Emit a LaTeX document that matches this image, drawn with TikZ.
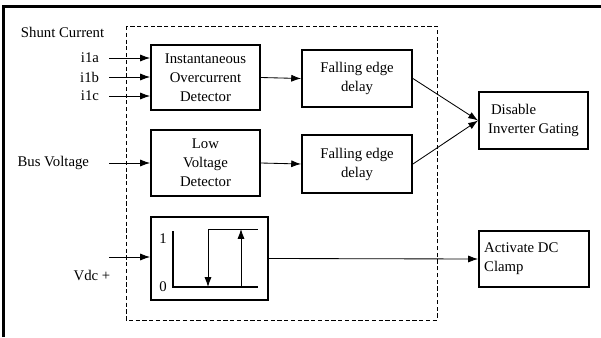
\documentclass[tikz,border=0pt]{standalone}
\usepackage{fontspec}
\setmainfont{Liberation Serif}
\usetikzlibrary{arrows.meta}

\tikzset{
  block/.style={draw, line width=1.3pt, align=center, inner sep=2pt},
  arr/.style={-{Latex[length=7pt,width=5pt]}, line width=0.6pt},
}

\begin{document}
\begin{tikzpicture}[x=0.025cm, y=-0.025cm, font=\fontsize{10.5}{13.5}\selectfont]
  \useasboundingbox (0,0) rectangle (601,337);

  % frame (cut off on the right and at the bottom)
  \draw [line width=1.8pt] (3.5,337) -- (3.5,6.5) -- (601,6.5);
  % protection area
  \draw [dash pattern=on 3pt off 1.8pt, line width=0.7pt] (126,26) rectangle (437,320);

  \node [anchor=west] (shunt) at (16,32) {Shunt Current};

  \node (ioc) at (205.5,77.5) [block, minimum width=2.725cm, minimum height=1.625cm] {Instantaneous\\Overcurrent\\Detector};
  \node (fed1) at (357,78.5) [block, minimum width=2.75cm, minimum height=1.425cm] {Falling edge\\delay};
  \node (lvd) at (205.5,163) [block, minimum width=2.725cm, minimum height=1.65cm] {Low\\Voltage\\Detector};
  \node (fed2) at (357,164) [block, minimum width=2.75cm, minimum height=1.45cm] {Falling edge\\delay};
  \node (hyst) at (209.5,258.5) [block, minimum width=2.925cm, minimum height=2.075cm] {};
  \node (dis) at (533.5,120.5) [block, align=left, minimum width=2.725cm, minimum height=1.425cm] {\hspace*{2pt}Disable\\Inverter Gating};
  \node (clamp) at (534,259) [block, align=left, minimum width=2.75cm, minimum height=1.4cm] {Activate DC\hspace*{18pt}\\Clamp};

  \coordinate (ina) at (109,58);
  \coordinate (inb) at (109,77);
  \coordinate (inc) at (109,96);
  \coordinate (inbus) at (109,163);
  \coordinate (invdc) at (109,257);

  \node [anchor=east] (i1a) at (104,58) {i1a};
  \node [anchor=east] (i1b) at (104,77) {i1b};
  \node [anchor=east] (i1c) at (104,96) {i1c};
  \node [anchor=east] (bus) at (94,163) {Bus Voltage};
  \node (vdc) at (92,275) {Vdc +};

  \draw [arr] (ina) -- (ina -| ioc.west);
  \draw [arr] (inb) -- (inb -| ioc.west);
  \draw [arr] (inc) -- (inc -| ioc.west);
  \draw [arr] (inbus) -- (inbus -| lvd.west);
  \draw [arr] (invdc) -- (invdc -| hyst.west);

  \draw [arr] (ioc.east) -- (fed1.west);
  \draw [arr] (lvd.east) -- (fed2.west);
  \draw [arr] (fed1.east) -- (dis.west);
  \draw [arr] (fed2.east) -- (dis.west);
  \draw [arr] (hyst.east) -- (clamp.west);

  % hysteresis characteristic
  \draw [line width=1.3pt] (173,231) -- (173,287) -- (258,287);
  \draw [line width=0.6pt] (208,229) -- (258,229);
  \draw [arr] (208,229) -- (208,287);
  \draw [arr] (241,287) -- (241,229);
  \node (one) at (163,239) {1};
  \node (zero) at (163,287) {0};
\end{tikzpicture}
\end{document}
